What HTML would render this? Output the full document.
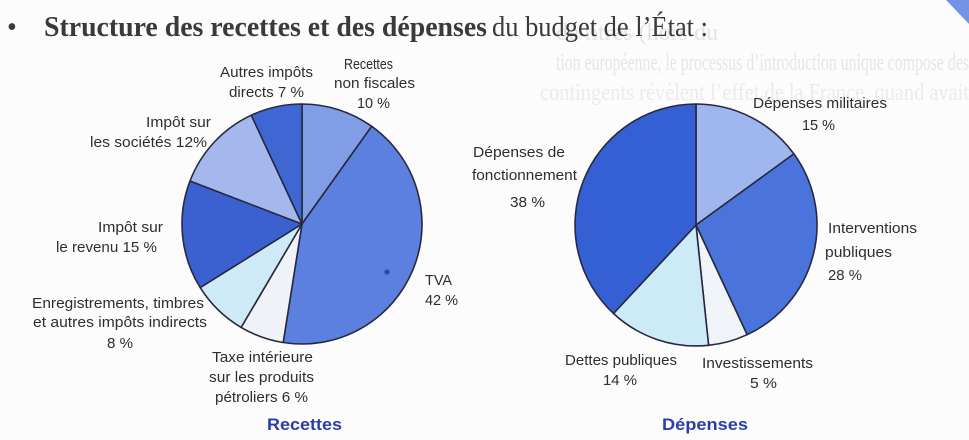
<!DOCTYPE html>
<html>
<head>
<meta charset="utf-8">
<style>
  html,body{margin:0;padding:0;background:#fcfcfc;}
  svg{display:block;}
  .lbl{font-family:"Liberation Sans Narrow","Liberation Sans",sans-serif;font-size:15px;fill:#2e2e2e;}
  .ttl{font-family:"Liberation Sans",sans-serif;font-size:17px;font-weight:bold;fill:#2b3ea8;}
  .bleed{font-family:"Liberation Serif",serif;font-size:24px;}
</style>
</head>
<body>
<svg width="969" height="440" viewBox="0 0 969 440" xmlns="http://www.w3.org/2000/svg">
  <rect width="969" height="440" fill="#fcfcfc"/>

  <!-- faint bleed-through text -->
  <text class="bleed" x="556" y="40" style="fill:#e4e4e4">de titres (hors du</text>
  <text class="bleed" x="556" y="70" style="fill:#e6e6e6" textLength="413" lengthAdjust="spacingAndGlyphs">tion européenne, le processus d’introduction unique compose des</text>
  <text class="bleed" x="540" y="100" style="fill:#ebebeb" textLength="429" lengthAdjust="spacingAndGlyphs">contingents révèlent l’effet de la France, quand avait</text>

  <!-- corner blue -->
  <polygon points="946,0 969,0 969,24" fill="#7394e6"/>

  <!-- Title -->
  <text x="7" y="36" style="font-family:'Liberation Serif',serif;font-size:28px;fill:#3a3a3a;">•</text>
  <text x="44" y="36" style="font-family:'Liberation Serif',serif;font-size:28px;font-weight:bold;fill:#3a3a3a;" textLength="443" lengthAdjust="spacingAndGlyphs">Structure des recettes et des dépenses</text>
  <text x="492" y="36" style="font-family:'Liberation Serif',serif;font-size:28px;fill:#3a3a3a;" textLength="216" lengthAdjust="spacingAndGlyphs">du budget de l’État :</text>

  <!-- Left pie: Recettes -->
  <g stroke="#262a40" stroke-width="1.6" stroke-linejoin="round">
    <path d="M302,224 L302,104 A120,120 0 0 1 371.7,126.3 Z" fill="#809de6"/>
    <path d="M302,224 L371.7,126.3 A120,120 0 0 1 283.2,342.5 Z" fill="#5b80e0"/>
    <path d="M302,224 L283.2,342.5 A120,120 0 0 1 241.1,327.4 Z" fill="#eff3f8"/>
    <path d="M302,224 L241.1,327.4 A120,120 0 0 1 200.2,287.6 Z" fill="#cfeaf7"/>
    <path d="M302,224 L200.2,287.6 A120,120 0 0 1 190,181 Z" fill="#3a61cf"/>
    <path d="M302,224 L190,181 A120,120 0 0 1 251.3,115.2 Z" fill="#a5b8ed"/>
    <path d="M302,224 L251.3,115.2 A120,120 0 0 1 302,104 Z" fill="#3f67d3"/>
  </g>
  <circle cx="387" cy="272" r="2.6" fill="#3344b0"/>

  <!-- Right pie: Dépenses -->
  <g stroke="#262a40" stroke-width="1.6" stroke-linejoin="round">
    <path d="M696,225 L696,104 A121,121 0 0 1 793.9,153.9 Z" fill="#9fb6ee"/>
    <path d="M696,225 L793.9,153.9 A121,121 0 0 1 747.1,334.7 Z" fill="#4a73dc"/>
    <path d="M696,225 L747.1,334.7 A121,121 0 0 1 708.6,345.3 Z" fill="#f0f3f8"/>
    <path d="M696,225 L708.6,345.3 A121,121 0 0 1 613.5,313.5 Z" fill="#cdeaf7"/>
    <path d="M696,225 L613.5,313.5 A121,121 0 0 1 696,104 Z" fill="#3560d3"/>
  </g>

  <!-- Left labels -->
  <text class="lbl" x="220" y="77" textLength="93" lengthAdjust="spacingAndGlyphs">Autres impôts</text>
  <text class="lbl" x="229" y="97" textLength="75" lengthAdjust="spacingAndGlyphs">directs 7 %</text>
  <text class="lbl" x="344" y="69" textLength="49" lengthAdjust="spacingAndGlyphs">Recettes</text>
  <text class="lbl" x="334" y="88" textLength="81" lengthAdjust="spacingAndGlyphs">non fiscales</text>
  <text class="lbl" x="357" y="108" textLength="33" lengthAdjust="spacingAndGlyphs">10 %</text>
  <text class="lbl" x="146" y="127" textLength="65" lengthAdjust="spacingAndGlyphs">Impôt sur</text>
  <text class="lbl" x="90" y="147" textLength="117" lengthAdjust="spacingAndGlyphs">les sociétés 12%</text>
  <text class="lbl" x="98" y="232" textLength="65" lengthAdjust="spacingAndGlyphs">Impôt sur</text>
  <text class="lbl" x="56" y="252" textLength="101" lengthAdjust="spacingAndGlyphs">le revenu 15 %</text>
  <text class="lbl" x="32" y="308" textLength="172" lengthAdjust="spacingAndGlyphs">Enregistrements, timbres</text>
  <text class="lbl" x="33" y="327" textLength="174" lengthAdjust="spacingAndGlyphs">et autres impôts indirects</text>
  <text class="lbl" x="107" y="348" textLength="26" lengthAdjust="spacingAndGlyphs">8 %</text>
  <text class="lbl" x="212" y="362" textLength="101" lengthAdjust="spacingAndGlyphs">Taxe intérieure</text>
  <text class="lbl" x="209" y="382" textLength="105" lengthAdjust="spacingAndGlyphs">sur les produits</text>
  <text class="lbl" x="215" y="402" textLength="93" lengthAdjust="spacingAndGlyphs">pétroliers 6 %</text>
  <text class="lbl" x="425" y="285" textLength="27" lengthAdjust="spacingAndGlyphs">TVA</text>
  <text class="lbl" x="425" y="305" textLength="33" lengthAdjust="spacingAndGlyphs">42 %</text>
  <text class="ttl" x="267" y="430" textLength="75" lengthAdjust="spacingAndGlyphs">Recettes</text>

  <!-- Right labels -->
  <text class="lbl" x="473" y="157" textLength="92" lengthAdjust="spacingAndGlyphs">Dépenses de</text>
  <text class="lbl" x="472" y="180" textLength="105" lengthAdjust="spacingAndGlyphs">fonctionnement</text>
  <text class="lbl" x="510" y="207" textLength="35" lengthAdjust="spacingAndGlyphs">38 %</text>
  <text class="lbl" x="753" y="108" textLength="134" lengthAdjust="spacingAndGlyphs">Dépenses militaires</text>
  <text class="lbl" x="802" y="130" textLength="33" lengthAdjust="spacingAndGlyphs">15 %</text>
  <text class="lbl" x="828" y="233" textLength="89" lengthAdjust="spacingAndGlyphs">Interventions</text>
  <text class="lbl" x="825" y="257" textLength="67" lengthAdjust="spacingAndGlyphs">publiques</text>
  <text class="lbl" x="828" y="280" textLength="34" lengthAdjust="spacingAndGlyphs">28 %</text>
  <text class="lbl" x="565" y="365" textLength="112" lengthAdjust="spacingAndGlyphs">Dettes publiques</text>
  <text class="lbl" x="603" y="385" textLength="34" lengthAdjust="spacingAndGlyphs">14 %</text>
  <text class="lbl" x="702" y="368" textLength="111" lengthAdjust="spacingAndGlyphs">Investissements</text>
  <text class="lbl" x="750" y="388" textLength="27" lengthAdjust="spacingAndGlyphs">5 %</text>
  <text class="ttl" x="662" y="430" textLength="86" lengthAdjust="spacingAndGlyphs">Dépenses</text>
</svg>
</body>
</html>
